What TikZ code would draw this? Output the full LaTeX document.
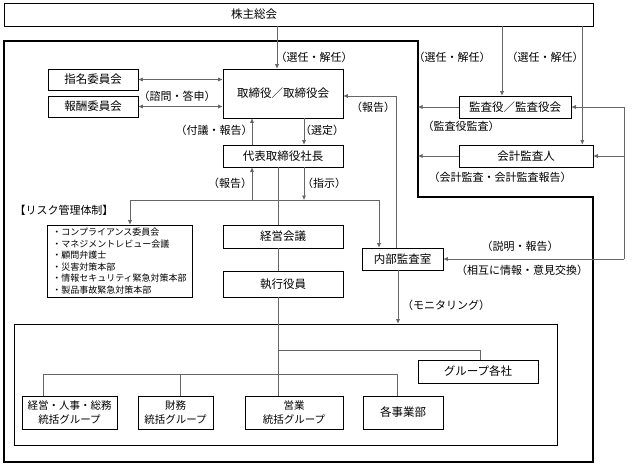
\documentclass[tikz,border=0pt]{standalone}
\usepackage{fontspec}
\setmainfont{Noto Sans CJK JP}
\usetikzlibrary{arrows.meta,calc}
\begin{document}
\begin{tikzpicture}[x=1pt,y=-1pt,
  box/.style={draw, line width=0.6pt, inner sep=0pt, align=center,
    font=\fontsize{11.5}{13.5}\selectfont,
    append after command={(\tikzlastnode.north east) edge[line width=1.4pt] (\tikzlastnode.south east)
      (\tikzlastnode.south east) edge[line width=1.4pt] (\tikzlastnode.south west)}},
  lbl/.style={font=\fontsize{11}{13}\selectfont, inner sep=0pt},
  conn/.style={draw=black!60, line width=0.6pt},
  arr/.style={conn, -{Latex[length=4.5pt,width=4pt]}},
  darr/.style={conn, {Latex[length=4.5pt,width=4pt]}-{Latex[length=4.5pt,width=4pt]}},
]
\useasboundingbox (0,0) rectangle (640,466);
\fill[white] (0,0) rectangle (640,466);

% outer frame
\coordinate (oTR) at (418,41);
\draw[line width=1.1pt] (oTR) -- (4,41) -- (4,462) -- (593,462) -- (593,197) -- (418,197) -- cycle;

% boxes
\node[box, minimum width=589pt, minimum height=23pt] (sh) at (298.5,14.5) {};
\node[lbl, font=\fontsize{11.5}{13.5}\selectfont] (shT) at (254,14.5) {株主総会};
\node[box, minimum width=120pt, minimum height=49pt] (tb) at (283,93.5) {取締役／取締役会};
\node[box, minimum width=90pt, minimum height=21pt] (nom) at (93,79.5) {指名委員会};
\node[box, minimum width=90pt, minimum height=21pt] (rem) at (93,106.5) {報酬委員会};
\node[box, minimum width=120pt, minimum height=22pt] (ceo) at (283,156) {代表取締役社長};
\node[box, minimum width=120pt, minimum height=23pt] (mtg) at (283,236.5) {経営会議};
\node[box, minimum width=120pt, minimum height=26pt] (exe) at (283,284) {執行役員};
\node[box, minimum width=145pt, minimum height=72pt, align=left, font=\fontsize{9}{11.6}\selectfont] (risk) at (119.5,261)
  {・コンプライアンス委員会\\・マネジメントレビュー会議\\・顧問弁護士\\・災害対策本部\\・情報セキュリティ緊急対策本部\\・製品事故緊急対策本部};
\node[box, minimum width=81pt, minimum height=22pt] (ia) at (402.5,259) {内部監査室};
\node[box, minimum width=112pt, minimum height=22pt] (kan) at (515,107) {監査役／監査役会};
\node[box, minimum width=134pt, minimum height=22pt] (acc) at (526,156) {会計監査人};
\node[box, minimum width=543pt, minimum height=121pt] (inner) at (285.5,384.5) {};
\node[box, minimum width=95pt, minimum height=33pt, font=\fontsize{10.5}{13.5}\selectfont] (g1) at (69.5,412.5) {経営・人事・総務\\統括グループ};
\node[box, minimum width=75pt, minimum height=33pt, font=\fontsize{10.5}{13.5}\selectfont] (g2) at (175.5,412.5) {財務\\統括グループ};
\node[box, minimum width=98pt, minimum height=33pt, font=\fontsize{10.5}{13.5}\selectfont] (g3) at (294,412.5) {営業\\統括グループ};
\node[box, minimum width=80pt, minimum height=33pt] (g4) at (403,412.5) {各事業部};
\node[box, minimum width=120pt, minimum height=23pt] (g5) at (478,371.5) {グループ各社};

% shareholders arrows
\coordinate (t1) at ([xshift=-6pt]tb.north);
\draw[arr] (t1 |- sh.south) -- (t1);
\coordinate (k1) at ([xshift=-13pt]kan.north);
\draw[arr] (k1 |- sh.south) -- (k1);
\coordinate (c1) at ([xshift=-11pt]acc.north east);
\draw[arr] (c1 |- sh.south) -- (c1);

% committees
\draw[darr] (nom.east) -- (nom.east -| tb.west);
\draw[darr] (rem.east) -- (rem.east -| tb.west);

% board <-> ceo
\coordinate (u1) at ([xshift=-31pt]ceo.north);
\draw[arr] (u1) -- (u1 |- tb.south);
\coordinate (d1) at ([xshift=21pt]tb.south);
\draw[arr] (d1) -- (d1 |- ceo.north);

% main vertical chain
\coordinate (v0) at ([xshift=-5pt]ceo.south);
\draw[conn] (v0) -- (v0 |- mtg.north);
\draw[conn] (v0 |- mtg.south) -- (v0 |- exe.north);
\draw[conn] (v0 |- exe.south) -- (v0 |- g3.north);
\coordinate (j1) at (278,350);
\coordinate (j2) at (278,374);
\coordinate (q5) at ([xshift=2pt]g5.north);
\draw[conn] (j1) -- (j1 -| q5) -- (q5);
\coordinate (q1) at ([xshift=-26.5pt]g1.north);
\coordinate (q2) at ([xshift=4.5pt]g2.north);
\coordinate (q4) at ([xshift=-6pt]g4.north);
\draw[conn] (q1) -- (q1 |- j2) -- (q4 |- j2) -- (q4);
\draw[conn] (q2) -- (q2 |- j2);

% ceo instructions line
\coordinate (h) at (0,200);
\coordinate (r1) at ([xshift=10.5pt]risk.north);
\coordinate (i1) at ([xshift=-23.5pt]ia.north);
\draw[conn] (r1 |- h) -- (i1 |- h);
\draw[arr] (r1 |- h) -- (r1);
\draw[arr] (i1 |- h) -- (i1);
\coordinate (u2) at ([xshift=-31pt]ceo.south);
\draw[arr] (u2 |- h) -- (u2);
\coordinate (d2) at ([xshift=21pt]ceo.south);
\draw[arr] (d2) -- (d2 |- h);

% internal audit report to board
\coordinate (i2) at ([xshift=-6.5pt]ia.north);
\coordinate (t2) at ([yshift=-2.5pt]tb.east);
\draw[arr] (i2) |- (t2);

% monitoring
\coordinate (i3) at ([xshift=-4.5pt]ia.south);
\draw[arr] (i3) -- (i3 |- inner.north);

% auditors to company
\draw[arr] (kan.west) -- (kan.west -| oTR);
\draw[arr] (acc.west) -- (acc.west -| oTR);

% right loop
\coordinate (rl) at (624,0);
\draw[conn] (kan.east -| rl) -- (ia.east -| rl);
\draw[arr] (kan.east -| rl) -- (kan.east);
\draw[arr] (acc.east -| rl) -- (acc.east);
\draw[arr] (ia.east -| rl) -- (ia.east);

% labels
\node[lbl] (l1) at (314,57) {（選任・解任）};
\node[lbl] (l2) at (452,57) {（選任・解任）};
\node[lbl] (l3) at (545,57) {（選任・解任）};
\node[lbl] (l4) at (177,96) {（諮問・答申）};
\node[lbl] (l5) at (214,130) {（付議・報告）};
\node[lbl] (l6) at (322,130) {（選定）};
\node[lbl] (l7) at (373,107) {（報告）};
\node[lbl] (l8) at (461,126) {（監査役監査）};
\node[lbl] (l9) at (500,177) {（会計監査・会計監査報告）};
\node[lbl] (l10) at (230,183) {（報告）};
\node[lbl] (l11) at (324,183) {（指示）};
\node[lbl] (l12) at (64,210) {【リスク管理体制】};
\node[lbl] (l13) at (520,246) {（説明・報告）};
\node[lbl] (l14) at (522,270) {（相互に情報・意見交換）};
\node[lbl] (l15) at (446,305) {（モニタリング）};
\end{tikzpicture}
\end{document}
